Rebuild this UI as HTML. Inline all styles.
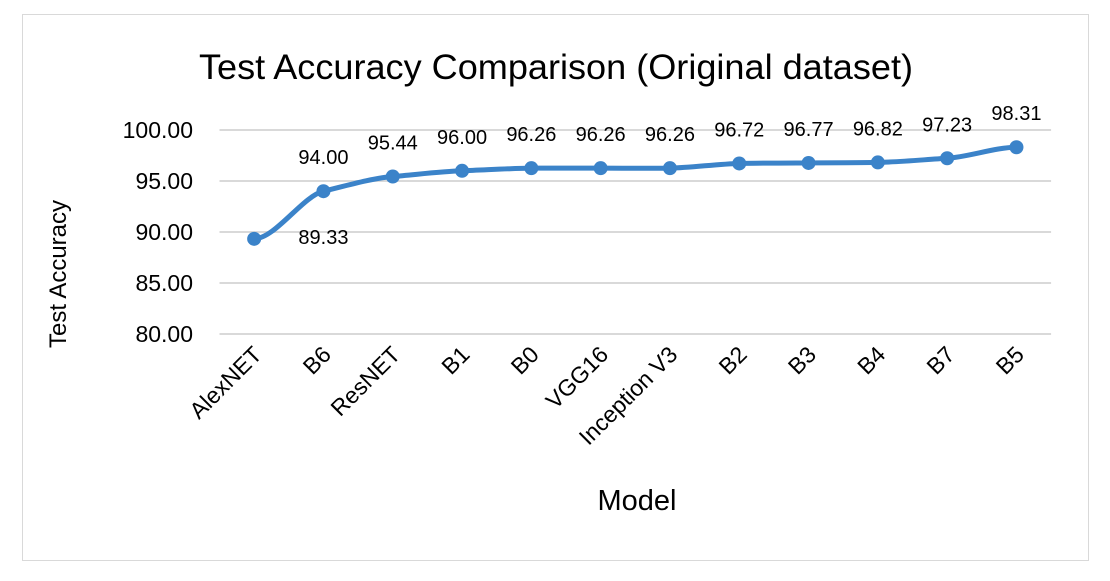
<!DOCTYPE html>
<html><head><meta charset="utf-8"><style>
body{margin:0;background:#fff;}
svg text{font-family:"Liberation Sans",sans-serif;fill:#000;}
</style></head><body>
<svg id="chart" width="1110" height="576" xmlns="http://www.w3.org/2000/svg">
<rect x="22.5" y="14.5" width="1066" height="546" fill="#fff" stroke="#d9d9d9"/>
<text x="556" y="79" font-size="35" text-anchor="middle" textLength="714" lengthAdjust="spacingAndGlyphs">Test Accuracy Comparison (Original dataset)</text>
<text transform="translate(66,274) rotate(-90)" font-size="24" text-anchor="middle">Test Accuracy</text>
<text x="637" y="510" font-size="29" text-anchor="middle">Model</text>
<g id="grid"></g><g id="ylab"></g><g id="xlab"></g><g id="series"></g><g id="vals"></g>
</svg>
<script>
const categories=["AlexNET","B6","ResNET","B1","B0","VGG16","Inception V3","B2","B3","B4","B7","B5"];
const accuracy=[89.33,94.00,95.44,96.00,96.26,96.26,96.26,96.72,96.77,96.82,97.23,98.31];
const yTicks=[80,85,90,95,100];
const NS="http://www.w3.org/2000/svg";
const left=219.5,step=69.3,yTop=130,yBot=334,vMin=80,vMax=100;
const xPos=i=>left+step*(i+0.5);
const yPos=v=>yBot-(v-vMin)/(vMax-vMin)*(yBot-yTop);
function mk(t,a,p){const e=document.createElementNS(NS,t);for(const k in a)e.setAttribute(k,a[k]);p.appendChild(e);return e;}
const grid=document.getElementById('grid'),ylab=document.getElementById('ylab'),xlab=document.getElementById('xlab'),ser=document.getElementById('series'),vals=document.getElementById('vals');
yTicks.forEach(v=>{
 const l=mk('line',{x1:left,x2:left+step*12,y1:yPos(v),y2:yPos(v),stroke:'#d9d9d9','stroke-width':2},grid);
 
 
 const t=mk('text',{x:193,y:yPos(v)+8,'font-size':23,'text-anchor':'end'},ylab);
 t.textContent=v.toFixed(2);
 
 
});
categories.forEach((c,i)=>{
 const x=xPos(i)+9,y=356;
 const t=mk('text',{transform:`translate(${x},${y}) rotate(-45)`,'font-size':23,'text-anchor':'end'},xlab);
 t.textContent=c;
 
 
});
const pts=accuracy.map((v,i)=>[xPos(i),yPos(v)]);
let d='M'+pts[0][0]+','+pts[0][1];
for(let i=1;i<pts.length;i++){const p0=pts[i-1],p1=pts[i];const cx=(p1[0]-p0[0])*0.3;d+=` C${p0[0]+cx},${p0[1]+(i>1?(p1[1]-pts[i-2][1])*0.08:0)} ${p1[0]-cx},${p1[1]-(i<pts.length-1?(pts[i+1][1]-p0[1])*0.08:0)} ${p1[0]},${p1[1]}`;}
const line=mk('path',{d:d,fill:'none',stroke:'#3b83c9','stroke-width':5,'stroke-linejoin':'round'},ser);


accuracy.forEach((v,i)=>{
 const c=mk('circle',{cx:xPos(i),cy:yPos(v),r:7,fill:'#3b83c9'},ser);
 
 
 let lx=xPos(i),ly=yPos(v)-27;
 if(i===0){lx=xPos(1);ly=yPos(v)+5;}
 const t=mk('text',{x:lx,y:ly,'font-size':20,'text-anchor':'middle'},vals);
 t.textContent=v.toFixed(2);
 
 
});
</script>
</body></html>
